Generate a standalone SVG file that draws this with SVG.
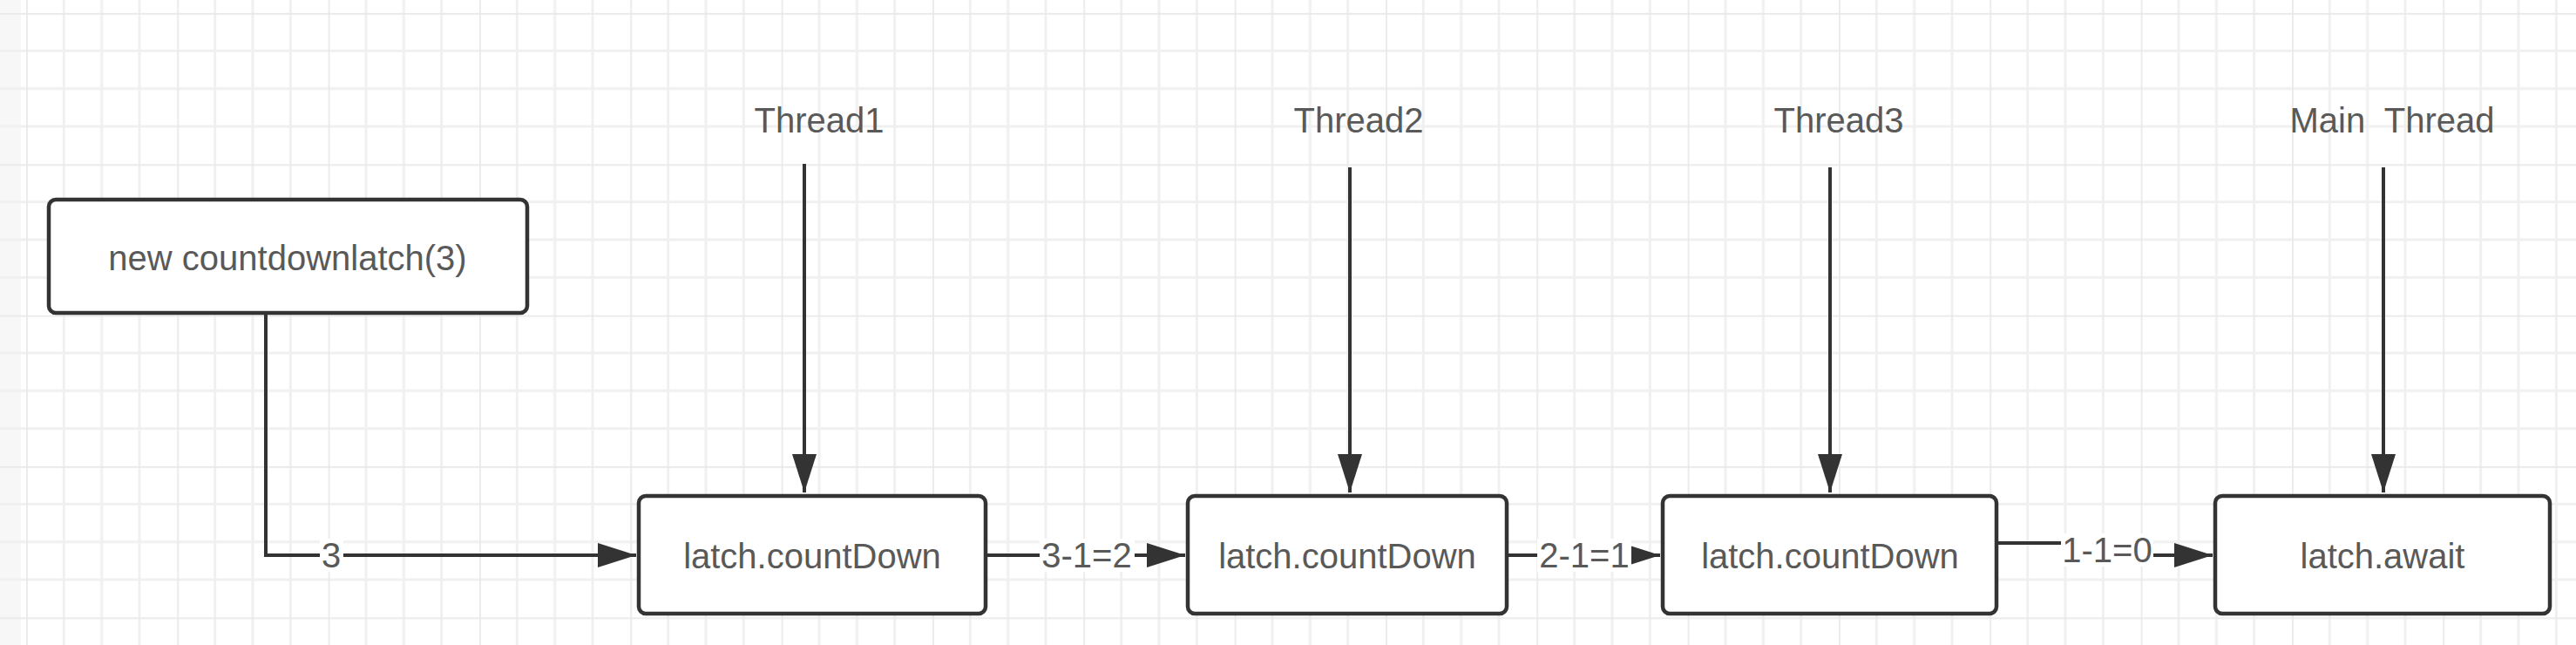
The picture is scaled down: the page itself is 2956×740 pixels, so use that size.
<svg xmlns="http://www.w3.org/2000/svg" width="2956" height="740" viewBox="0 0 2956 740">
  <style>
    .node rect { fill: #ffffff; stroke: #333333; stroke-width: 4.5; }
    .txt { font-family: "Liberation Sans", Arial, sans-serif; font-size: 40px; fill: #595959; text-anchor: middle; white-space: pre; }
    .edge { fill: none; stroke: #333333; stroke-width: 4; }
    .lblbg { fill: #ffffff; }
  </style>
  <defs>
    <pattern id="grid" patternUnits="userSpaceOnUse" x="30" y="15" width="173.333" height="173.333">
      <path d="M43.333,0V173.333M86.667,0V173.333M130,0V173.333M0,43.333H173.333M0,86.667H173.333M0,130H173.333" stroke="#f0f0f0" stroke-width="3" fill="none"/>
      <path d="M0,0V173.333M0,0H173.333" stroke="#e9e9e9" stroke-width="3.5" fill="none"/>
    </pattern>
    <marker id="arrow" markerUnits="userSpaceOnUse" markerWidth="46" markerHeight="30" refX="44" refY="14" orient="auto">
      <path d="M0,0 L44,14 L0,28 z" fill="#333333"/>
    </marker>
  </defs>

  <rect x="0" y="0" width="2956" height="740" fill="#ffffff"/>
  <rect x="0" y="0" width="24" height="740" fill="#f7f7f7"/>
  <rect x="0" y="0" width="2956" height="740" fill="url(#grid)"/>

  <g id="connectors">
    <path class="edge" d="M305,360 V637 H730" marker-end="url(#arrow)"/>
    <path class="edge" d="M1131,637 H1360" marker-end="url(#arrow)"/>
    <path class="edge" d="M1729,637 H1905" marker-end="url(#arrow)"/>
    <path class="edge" d="M2291,623 H2418 V637 H2539" marker-end="url(#arrow)"/>
    <path class="edge" d="M923,188 V565" marker-end="url(#arrow)"/>
    <path class="edge" d="M1549,192 V565" marker-end="url(#arrow)"/>
    <path class="edge" d="M2100,192 V565" marker-end="url(#arrow)"/>
    <path class="edge" d="M2735,192 V565" marker-end="url(#arrow)"/>

    <rect class="lblbg" x="367" y="618" width="27" height="38"/>
    <text class="txt" x="380" y="651">3</text>
    <rect class="lblbg" x="1193" y="618" width="109" height="38"/>
    <text class="txt" x="1247" y="651">3-1=2</text>
    <rect class="lblbg" x="1764" y="618" width="108" height="38"/>
    <text class="txt" x="1818" y="651">2-1=1</text>
    <rect class="lblbg" x="2365" y="612" width="106" height="38"/>
    <text class="txt" x="2418" y="645">1-1=0</text>
  </g>

  <g id="thread1"><text class="txt" x="940" y="152">Thread1</text></g>
  <g id="thread2"><text class="txt" x="1559" y="152">Thread2</text></g>
  <g id="thread3"><text class="txt" x="2110" y="152">Thread3</text></g>
  <g id="mainthread"><text class="txt" x="2745" y="152">Main  Thread</text></g>

  <g id="newlatch" class="node">
    <rect x="56" y="229" width="549" height="130" rx="8"/>
    <text class="txt" x="330" y="310">new countdownlatch(3)</text>
  </g>
  <g id="countdown1" class="node">
    <rect x="733" y="569" width="398" height="135" rx="8"/>
    <text class="txt" x="932" y="652">latch.countDown</text>
  </g>
  <g id="countdown2" class="node">
    <rect x="1363" y="569" width="366" height="135" rx="8"/>
    <text class="txt" x="1546" y="652">latch.countDown</text>
  </g>
  <g id="countdown3" class="node">
    <rect x="1908" y="569" width="383" height="135" rx="8"/>
    <text class="txt" x="2100" y="652">latch.countDown</text>
  </g>
  <g id="await" class="node">
    <rect x="2542" y="569" width="384" height="135" rx="8"/>
    <text class="txt" x="2734" y="652">latch.await</text>
  </g>
</svg>
